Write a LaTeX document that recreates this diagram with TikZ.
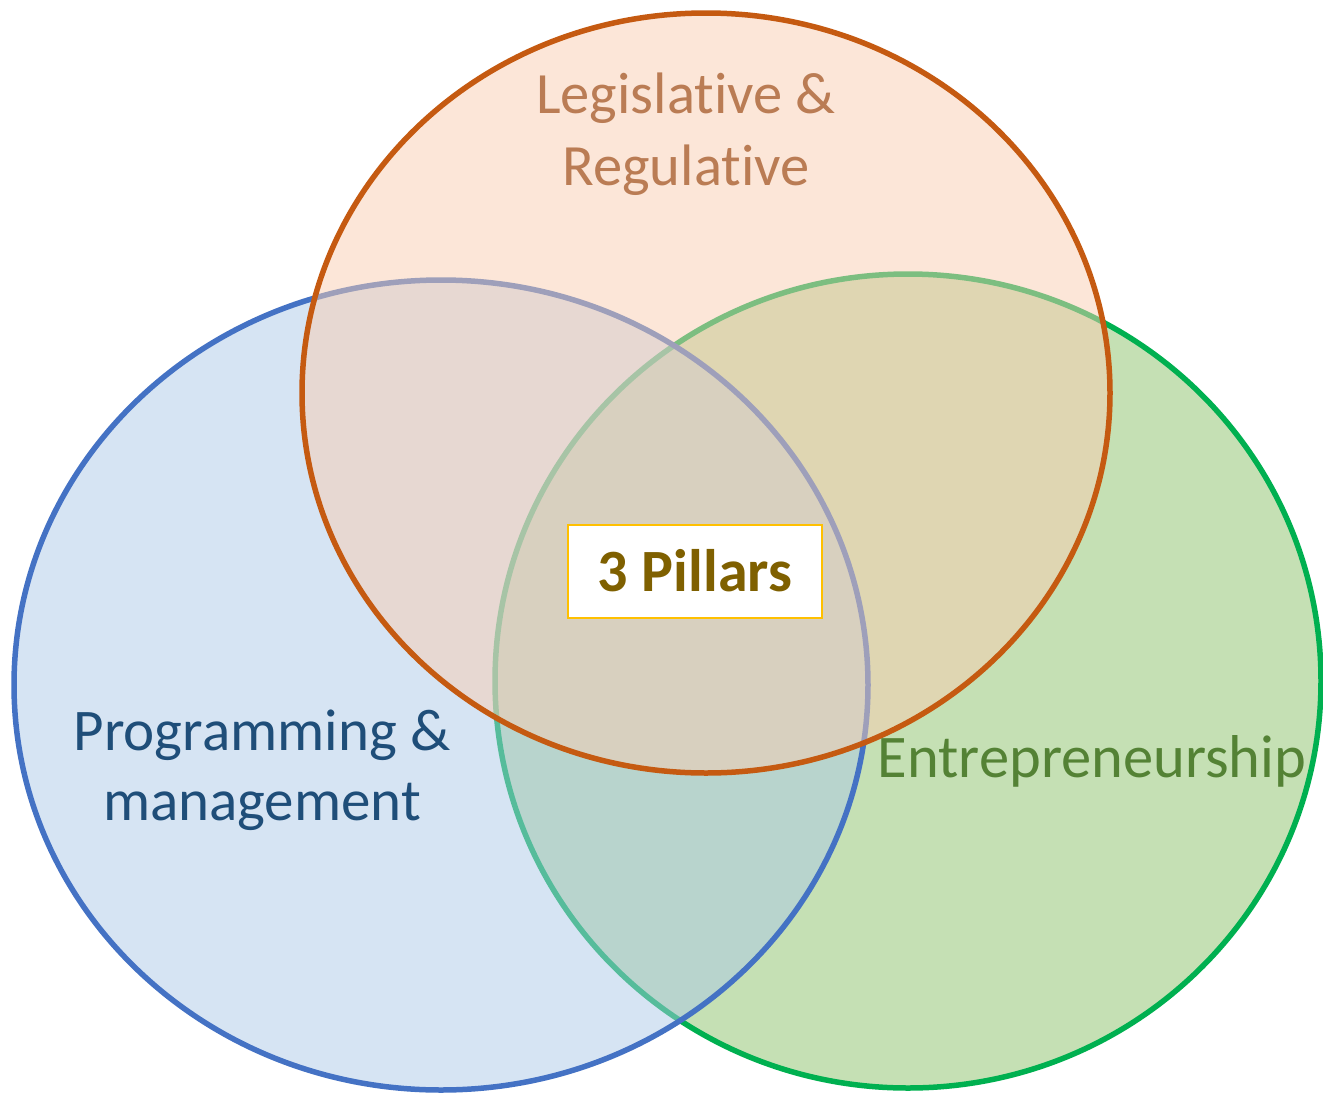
\documentclass[tikz,border=0pt]{standalone}
\usepackage{fontspec}
\setmainfont{Carlito}[Ligatures=NoCommon, RawFeature={-liga;-dlig;-clig}]
\definecolor{bline}{RGB}{68,114,196}
\definecolor{bfill}{RGB}{173,201,231}
\definecolor{oline}{RGB}{197,90,17}
\definecolor{ofill}{RGB}{249,205,177}
\definecolor{gline}{RGB}{0,176,80}
\definecolor{gfill}{RGB}{139,193,105}
\definecolor{btext}{RGB}{31,78,121}
\definecolor{otext}{RGB}{186,124,84}
\definecolor{gtext}{RGB}{84,130,53}
\definecolor{ptext}{RGB}{127,96,0}
\definecolor{pbox}{RGB}{255,192,0}
\tikzset{
  setcircle/.style={line width=5.5pt, fill opacity=0.5, draw opacity=1},
  setlabel/.style={inner sep=0pt, align=center, anchor=base},
  pillarbox/.style={draw=pbox, fill=white, line width=2pt, minimum width=254pt, minimum height=93pt, inner sep=0pt, text=ptext, font=\fontsize{60}{72}\selectfont\bfseries}
}
\begin{document}
\begin{tikzpicture}[x=1pt,y=-1pt]
\useasboundingbox (0,0) rectangle (1323,1093);
% circles: green, blue, orange
\draw[setcircle, draw=gline, fill=gfill] (908,681) ellipse [x radius=413pt, y radius=407pt];
\draw[setcircle, draw=bline, fill=bfill] (441,685) ellipse [x radius=427pt, y radius=405pt];
\draw[setcircle, draw=oline, fill=ofill] (706,393) ellipse [x radius=404pt, y radius=380pt];
% labels (base = baseline of the last line)
\node[setlabel, text=otext, font=\fontsize{58.5}{72}\selectfont] (leg) at (686,185) {Legislative \&\\Regulative};
\node[setlabel, text=btext, font=\fontsize{59}{70}\selectfont] (prog) at (262,820) {Programming \&\\management};
\node[setlabel, text=gtext, font=\fontsize{60.5}{72}\selectfont] (ent) at (1092,777) {Entrepreneurship};
\node[pillarbox] (pil) at (695,571) {3 Pillars};
\end{tikzpicture}
\end{document}
